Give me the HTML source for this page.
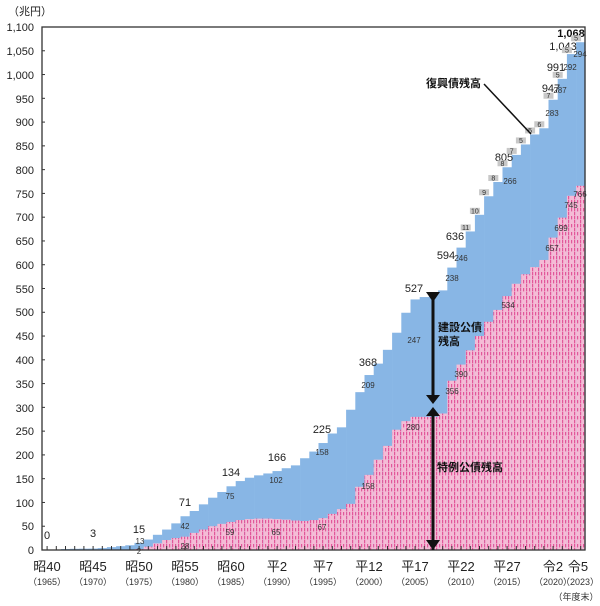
<!DOCTYPE html>
<html><head><meta charset="utf-8"><style>
html,body{margin:0;padding:0;background:#fff;}
svg{display:block;font-family:"Liberation Sans","Noto Sans CJK JP",sans-serif;}
.t{font-size:11px;fill:#222}
.s{font-size:8px;fill:#333}
.ax{font-size:11px;fill:#222}
.xl{font-size:13px;fill:#222}
.yr{font-size:9px;fill:#333}
.b{font-size:11px;font-weight:bold;fill:#111}
</style></head><body>
<svg id="c" width="600" height="606" viewBox="0 0 600 606" xmlns="http://www.w3.org/2000/svg">
<defs>
<pattern id="pk" width="3" height="8" patternUnits="userSpaceOnUse">
<rect width="3" height="8" fill="#f4bcd6"/>
<rect x="1" y="0" width="1.2" height="3.4" fill="#e2579a"/>
</pattern>
<pattern id="pk2" width="6" height="8" patternUnits="userSpaceOnUse">
<rect width="6" height="8" fill="url(#pk)"/>
<rect x="4" y="4" width="1.2" height="3.4" fill="#e2579a"/>
</pattern>
</defs>
<g id="bars"></g>
<rect x="42" y="27" width="543" height="523" fill="none" stroke="#333" stroke-width="1.3"/>
<g id="ticks" stroke="#333" stroke-width="1"></g>
<text class="ax" x="8" y="15">（兆円）</text>
<g class="ax" text-anchor="end">
<text x="34" y="554">0</text><text x="34" y="530">50</text><text x="34" y="507">100</text><text x="34" y="483">150</text>
<text x="34" y="459">200</text><text x="34" y="435">250</text><text x="34" y="412">300</text><text x="34" y="388">350</text>
<text x="34" y="364">400</text><text x="34" y="340">450</text><text x="34" y="316">500</text><text x="34" y="293">550</text>
<text x="34" y="269">600</text><text x="34" y="245">650</text><text x="34" y="221">700</text><text x="34" y="198">750</text>
<text x="34" y="174">800</text><text x="34" y="150">850</text><text x="34" y="126">900</text><text x="34" y="103">950</text>
<text x="34" y="79">1,000</text><text x="34" y="55">1,050</text><text x="34" y="31">1,100</text>
</g>
<g class="xl" text-anchor="middle">
<text x="47" y="571">昭40</text><text x="93" y="571">昭45</text><text x="139" y="571">昭50</text><text x="185" y="571">昭55</text>
<text x="231" y="571">昭60</text><text x="277" y="571">平2</text><text x="323" y="571">平7</text><text x="369" y="571">平12</text>
<text x="415" y="571">平17</text><text x="461" y="571">平22</text><text x="507" y="571">平27</text><text x="553" y="571">令2</text><text x="578" y="571">令5</text>
</g>
<g class="yr" text-anchor="middle">
<text x="47" y="585">（1965）</text><text x="93" y="585">（1970）</text><text x="139" y="585">（1975）</text><text x="185" y="585">（1980）</text>
<text x="231" y="585">（1985）</text><text x="277" y="585">（1990）</text><text x="323" y="585">（1995）</text><text x="369" y="585">（2000）</text>
<text x="415" y="585">（2005）</text><text x="461" y="585">（2010）</text><text x="507" y="585">（2015）</text><text x="553" y="585">（2020）</text><text x="580" y="585">（2023）</text>
<text x="576" y="600">（年度末）</text>
</g>
<g class="t" text-anchor="middle">
<text x="47" y="539">0</text><text x="93" y="537">3</text><text x="139" y="533">15</text><text x="185" y="506">71</text>
<text x="231" y="476">134</text><text x="277" y="461">166</text><text x="322" y="433">225</text><text x="368" y="366">368</text>
<text x="414" y="292">527</text><text x="446" y="259">594</text><text x="455" y="240">636</text><text x="504" y="161">805</text>
<text x="551" y="92">947</text><text x="556" y="71">991</text><text x="563" y="50">1,043</text>
<text x="571" y="37" class="b">1,068</text>
</g>
<g class="s" text-anchor="middle">
<text x="140" y="544">13</text><text x="139" y="554">2</text><text x="185" y="529">42</text><text x="230" y="499">75</text>
<text x="276" y="483">102</text><text x="322" y="455">158</text><text x="368" y="388">209</text><text x="414" y="343">247</text>
<text x="452" y="281">238</text><text x="461" y="261">246</text><text x="510" y="184">266</text><text x="552" y="116">283</text>
<text x="560" y="93">287</text><text x="570" y="70">292</text><text x="580" y="57">294</text>
<text x="185" y="549">28</text><text x="230" y="535">59</text><text x="276" y="535">65</text><text x="322" y="530">67</text>
<text x="368" y="489">158</text><text x="413" y="430">280</text><text x="452" y="394">356</text><text x="461" y="377">390</text>
<text x="508" y="308">534</text><text x="552" y="251">657</text><text x="561" y="231">699</text><text x="571" y="208">745</text><text x="580" y="197">766</text>
</g>
<g id="gl" class="s" text-anchor="middle"></g>
<g stroke="#111" stroke-width="3" fill="#111">
<line x1="433" y1="300" x2="433" y2="395"/>
<polygon points="426,292 440,292 433,302" stroke="none"/>
<polygon points="426,395 440,395 433,404" stroke="none"/>
<line x1="433" y1="415" x2="433" y2="550"/>
<polygon points="426,416 440,416 433,407" stroke="none"/>
<polygon points="426,540 440,540 433,550" stroke="none"/>
</g>
<text class="b" x="438" y="331">建設公債</text>
<text class="b" x="438" y="345">残高</text>
<text class="b" x="437" y="471">特例公債残高</text>
<text class="b" x="426" y="87">復興債残高</text>
<line x1="484" y1="84" x2="531" y2="134" stroke="#111" stroke-width="1.5"/>
</svg>
<script>
var tot=[0.2,1,2,2.5,2.8,3,4,6,8,10,15,22,32,43,56,71,82,96,110,122,134,145,152,157,161,166,172,178,193,207,225,245,258,295,332,368,392,421,457,499,527,532,541,546,594,636,670,705,744,774,805,831,853,874,887,947,991,1043,1068];
var sp=[0,0,0,0,0,0,0,0,0,0,2,7,14,21,25,28,36,43,50,55,59,63,65,66,66,65,64,62,61,63,67,76,86,97,133,158,190,219,253,271,280,280,280,287,356,390,420,450,480,505,534,560,580,595,610,657,699,745,766];
var gr=[0,0,0,0,0,0,0,0,0,0,0,0,0,0,0,0,0,0,0,0,0,0,0,0,0,0,0,0,0,0,0,0,0,0,0,0,0,0,0,0,0,0,0,0,0,0,11,10,9,8,8,7,5,5,6,7,5,5,5];
var k=523/1100,x0=42.5,w=9.2,s='',g='',tk='';
function Y(v){return 550-v*k;}
for(var i=0;i<59;i++){var x=x0+i*w;
s+='<rect x="'+x.toFixed(2)+'" y="'+Y(tot[i]).toFixed(2)+'" width="'+(w+0.3)+'" height="'+(tot[i]*k).toFixed(2)+'" fill="#88b6e5"/>';
if(sp[i]>0)s+='<rect x="'+x.toFixed(2)+'" y="'+Y(sp[i]).toFixed(2)+'" width="'+(w+0.3)+'" height="'+(sp[i]*k).toFixed(2)+'" fill="url(#pk2)"/>';
if(gr[i]>0){g+='<rect x="'+(x-5)+'" y="'+(Y(tot[i])-7)+'" width="10" height="6" fill="#c8c8c8"/><text x="'+x+'" y="'+(Y(tot[i])-1.5)+'" font-size="7">'+gr[i]+'</text>';}
tk+='<line x1="'+(x+w/2)+'" y1="550" x2="'+(x+w/2)+'" y2="546"/>';}
for(var v=50;v<1100;v+=50)tk+='<line x1="42" y1="'+Y(v)+'" x2="45" y2="'+Y(v)+'"/>';
document.getElementById('bars').innerHTML=s;
document.getElementById('gl').innerHTML=g;
document.getElementById('ticks').innerHTML=tk;
</script>
</body></html>
